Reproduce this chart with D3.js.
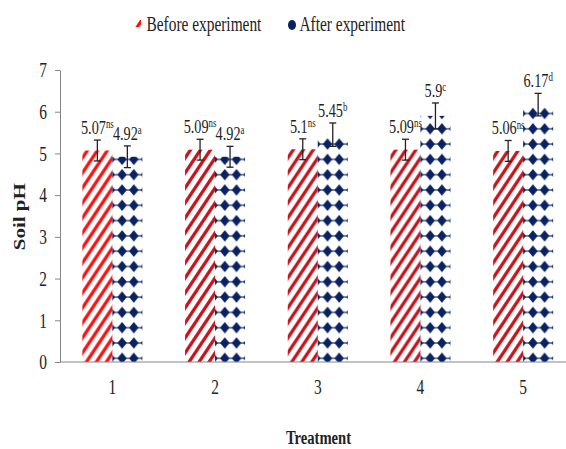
<!DOCTYPE html>
<html>
<head>
<meta charset="utf-8">
<script src="https://cdn.jsdelivr.net/npm/d3@7"></script>
<style>
  html, body { margin: 0; padding: 0; background: #fff; }
  svg { display: block; }
  svg text { font-family: "Liberation Serif", "Times New Roman", serif; fill: #222; }
</style>
</head>
<body>
<svg id="chart" width="566" height="449"></svg>
<script>
// ---- data ----
const categories = ["1", "2", "3", "4", "5"];
const seriesNames = ["Before experiment", "After experiment"];
const beforeValues = [5.07, 5.09, 5.1, 5.09, 5.06];
const afterValues = [4.92, 4.92, 5.45, 5.9, 6.17];
const beforeErrors = [0.25, 0.25, 0.25, 0.25, 0.25];
const afterErrors = [0.26, 0.25, 0.28, 0.31, 0.27];
const beforeLetters = ["ns", "ns", "ns", "ns", "ns"];
const afterLetters = ["a", "a", "b", "c", "d"];
const yTicks = [0, 1, 2, 3, 4, 5, 6, 7];
const yTitle = "Soil pH";
const xTitle = "Treatment";

// ---- layout ----
const serif = "'Liberation Serif', 'Times New Roman', serif";
const sx = 0.77; // horizontal squeeze of the text glyphs
const svg = d3.select("#chart");
const defs = svg.append("defs");

// red hatch patterns
function hatch(id, color) {
  const p = defs.append("pattern").attr("id", id)
    .attr("patternUnits", "userSpaceOnUse")
    .attr("width", 10).attr("height", 15).attr("x", 2).attr("y", 5);
  [-15, 0, 15].forEach(c => {
    p.append("line")
      .attr("x1", -2).attr("y1", 15 + c + 3)
      .attr("x2", 12).attr("y2", 15 + c - 18)
      .attr("stroke", color).attr("stroke-width", 3.3);
  });
}
hatch("hatch0", "#ff1010");
hatch("hatchN", "#c8141c");

// navy diamond pattern
const navy = "#0a2262";
const dp = defs.append("pattern").attr("id", "diamonds")
  .attr("patternUnits", "userSpaceOnUse")
  .attr("width", 11.7).attr("height", 15.3).attr("x", -1.2).attr("y", 14.05);
dp.append("line").attr("x1", 0).attr("x2", 11.7).attr("y1", 7.65).attr("y2", 7.65)
  .attr("stroke", navy).attr("stroke-width", 1.1);
dp.append("path")
  .attr("d", "M5.85,1.9 L10.6,7.65 L5.85,13.4 L1.1,7.65 Z")
  .attr("fill", navy);

const x = d3.scaleBand().domain(categories).range([61, 574.5])
  .paddingInner(0.416).paddingOuter(0.208);
const xs = d3.scaleBand().domain([0, 1]).range([0, x.bandwidth()]);
const y = d3.scaleLinear().domain([0, 7]).range([362, 70]);

// y axis
const yAxis = svg.append("g").attr("transform", "translate(60,0)")
  .call(d3.axisLeft(y).tickValues(yTicks).tickSize(5).tickSizeOuter(0).tickFormat(d3.format("d")))
  .attr("font-family", null).attr("font-size", null);
yAxis.select(".domain").attr("stroke", "#868686");
yAxis.selectAll(".tick line").attr("stroke", "#868686");
yAxis.selectAll(".tick text")
  .attr("x", null).attr("dy", "0.34em")
  .attr("transform", `translate(-13,0) scale(${sx},1)`)
  .attr("text-anchor", "end")
  .style("font-size", "20px").style("font-family", serif).attr("fill", "#222");

// x axis
const xAxis = svg.append("g").attr("transform", "translate(0,362)")
  .call(d3.axisBottom(x).tickSize(0))
  .attr("font-family", null).attr("font-size", null);
xAxis.select(".domain").remove();
xAxis.selectAll(".tick text")
  .attr("y", null).attr("dy", null)
  .attr("transform", `translate(0,32) scale(${sx},1)`)
  .style("font-size", "20px").style("font-family", serif).attr("fill", "#222");

// bars
const rows = categories.map((c, i) => ({
  c, i,
  vals: [
    { s: 0, v: beforeValues[i], e: beforeErrors[i], l: beforeLetters[i] },
    { s: 1, v: afterValues[i], e: afterErrors[i], l: afterLetters[i] }
  ]
}));

const groups = svg.append("g").selectAll("g").data(rows).join("g")
  .attr("transform", d => `translate(${x(d.c)},0)`);

groups.selectAll("rect").data(d => d.vals.map(v => ({ ...v, i: d.i }))).join("rect")
  .attr("x", d => xs(d.s))
  .attr("width", xs.bandwidth())
  .attr("y", d => y(d.v))
  .attr("height", d => y(0) - y(d.v))
  .attr("fill", d => d.s === 1 ? "url(#diamonds)" : (d.i === 0 ? "url(#hatch0)" : "url(#hatchN)"));

// x axis line drawn on top of bars
svg.append("line").attr("x1", 60).attr("x2", 566).attr("y1", 362).attr("y2", 362)
  .attr("stroke", "#868686").attr("stroke-width", 1.2);

// error bars
const eb = groups.selectAll("g.err").data(d => d.vals).join("g").attr("class", "err")
  .attr("transform", d => `translate(${xs(d.s) + xs.bandwidth() / 2},0)`);
eb.append("line").attr("y1", d => y(d.v - d.e)).attr("y2", d => y(d.v + d.e))
  .attr("stroke", "#222").attr("stroke-width", 1.3);
eb.append("line").attr("x1", -3.5).attr("x2", 3.5)
  .attr("y1", d => y(d.v + d.e)).attr("y2", d => y(d.v + d.e))
  .attr("stroke", "#222").attr("stroke-width", 1.3);
eb.append("line").attr("x1", -3.5).attr("x2", 3.5)
  .attr("y1", d => y(d.v - d.e)).attr("y2", d => y(d.v - d.e))
  .attr("stroke", "#222").attr("stroke-width", 1.3);

// value labels
const lab = eb.append("text")
  .attr("text-anchor", "middle")
  .attr("transform", d => `translate(0,${y(d.v + d.e) - 6}) scale(${sx},1)`)
  .style("font-size", "18.5px").style("font-family", serif);
lab.append("tspan").text(d => String(d.v));
lab.append("tspan").attr("dy", -6).style("font-size", "11.5px").text(d => d.l);

// axis titles
svg.append("text")
  .attr("transform", `translate(25,216.7) scale(${sx},1) rotate(-90)`)
  .attr("text-anchor", "middle")
  .style("font-size", "21px").style("font-weight", "bold").style("font-family", serif)
  .text(yTitle);
svg.append("text")
  .attr("transform", `translate(318.5,444) scale(${sx},1)`)
  .attr("text-anchor", "middle")
  .style("font-size", "19px").style("font-weight", "bold").style("font-family", serif)
  .text(xTitle);

// legend
const leg = svg.append("g");
leg.append("rect").attr("x", 134).attr("y", 20).attr("width", 7).attr("height", 7)
  .attr("fill", "url(#hatch0)");
leg.append("text").attr("transform", `translate(146.5,30.7) scale(${sx},1)`)
  .style("font-size", "20px").style("font-family", serif).text(seriesNames[0]);
leg.append("ellipse").attr("cx", 292).attr("cy", 25).attr("rx", 4).attr("ry", 5)
  .attr("fill", navy);
leg.append("text").attr("transform", `translate(299.5,30.9) scale(${sx},1)`)
  .style("font-size", "20px").style("font-family", serif).text(seriesNames[1]);
</script>
</body>
</html>
